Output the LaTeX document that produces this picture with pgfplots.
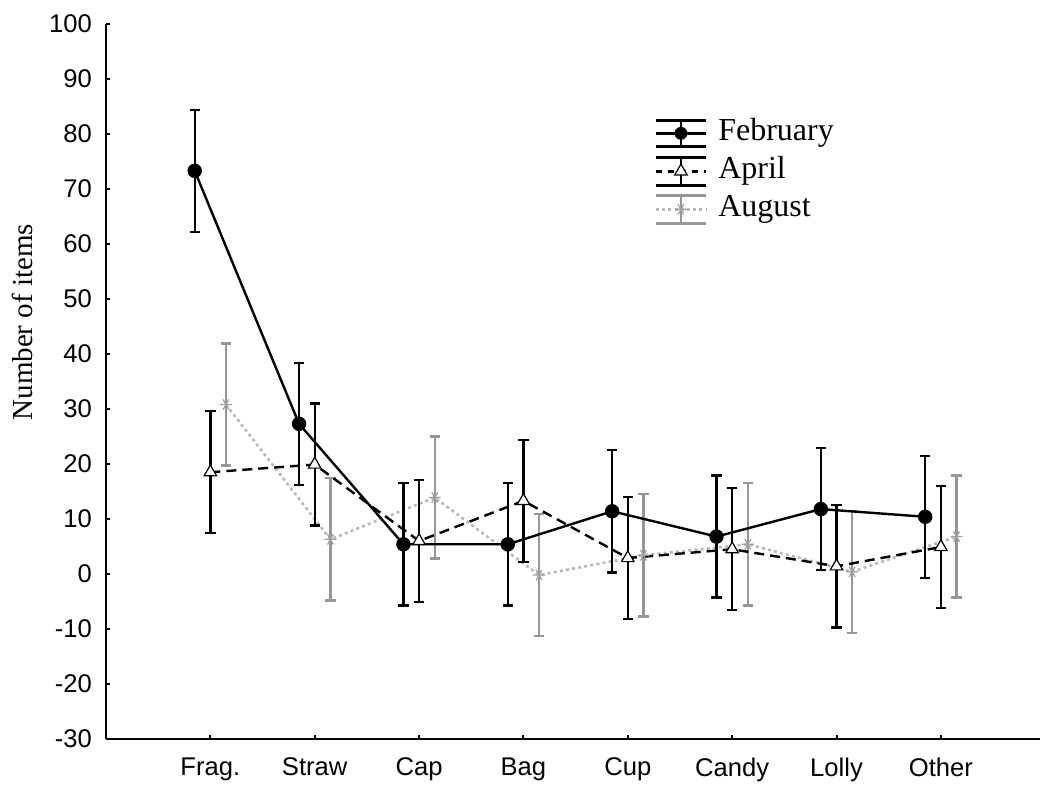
\documentclass[border=0pt]{standalone}
\usepackage{pgfplots}
\pgfplotsset{compat=1.18}
\usepackage{pgfplotstable}
\usepackage{fontspec}
\setmainfont{Liberation Serif}
\newfontfamily\arialfont{Liberation Sans}
\definecolor{augline}{RGB}{185,185,185}
\definecolor{augbar}{RGB}{150,150,150}
\definecolor{augmark}{RGB}{160,160,160}

\pgfplotstableread{
x     y     e
0.85  73.3  11.1
1.85  27.3  11.1
2.85  5.4   11.1
3.85  5.4   11.1
4.85  11.4  11.1
5.85  6.8   11.1
6.85  11.8  11.1
7.85  10.4  11.1
}\feb
\pgfplotstableread{
x     y     e
1.00  18.5  11.1
2.00  19.9  11.1
3.00  6.0   11.1
4.00  13.3  11.1
5.00  2.9   11.1
6.00  4.5   11.1
7.00  1.4   11.1
8.00  4.9   11.1
}\apr
\pgfplotstableread{
x     y     e
1.15  30.8  11.1
2.15  6.3   11.1
3.15  13.9  11.1
4.15  -0.2  11.1
5.15  3.4   11.1
6.15  5.4   11.1
7.15  0.4   11.1
8.15  6.8   11.1
}\aug

\begin{document}
\begin{tikzpicture}
\begin{axis}[
  name=ax,
  scale only axis,
  width=467pt, height=357.5pt,
  xmin=0, xmax=8.95,
  ymin=-30, ymax=100,
  axis x line*=bottom, axis y line*=left,
  axis line style={line width=1.2pt, black},
  xtick={1,2,3,4,5,6,7,8},
  xticklabels={Frag.,Straw,Cap,Bag,Cup,Candy,Lolly,Other},
  ytick={-30,-20,...,100},
  tick align=inside,
  major tick length=2.2pt,
  tick style={line width=1pt, black},
  /pgf/number format/assume math mode=true,
  ticklabel style={font=\arialfont\fontsize{12.8}{14}\selectfont},
  yticklabel style={xshift=-3.5pt},
  xticklabel style={yshift=-6pt},
  ylabel={Number of items},
  ylabel style={font=\fontsize{14.5}{16}\selectfont, at={(axis description cs:-0.09,0.583)}, anchor=center},
  legend style={at={(axis description cs:0.587,0.87)}, anchor=north west, draw=none, fill=none,
    font=\fontsize{16}{18}\selectfont, inner sep=0pt,
    nodes={inner sep=1pt, text height=10.5pt, text depth=3.5pt}, row sep=3pt},
  legend cell align=left,
  clip=false,
]
\addplot[forget plot, augline, line width=1.3pt, dash pattern=on 1.5pt off 1.6pt,
  mark=asterisk, mark size=3pt, mark options={solid, augmark, line width=0.6pt, rotate=90},
  error bars/.cd, y dir=both, y explicit,
  error bar style={solid, augbar, line width=1.2pt},
  error mark options={rotate=90, solid, augbar, line width=1.2pt, mark size=2.6pt}]
  table[x=x, y=y, y error=e] {\aug};
\addplot[forget plot, black, line width=1.2pt, dash pattern=on 5pt off 3pt,
  mark=triangle*, mark size=3.6pt, mark options={solid, fill=white, draw=black, line width=0.6pt},
  error bars/.cd, y dir=both, y explicit,
  error bar style={solid, black, line width=1.2pt},
  error mark options={rotate=90, solid, black, line width=1.2pt, mark size=2.6pt}]
  table[x=x, y=y, y error=e] {\apr};
\addplot[forget plot, black, line width=1.2pt, solid,
  mark=*, mark size=3pt, mark options={solid, fill=black},
  error bars/.cd, y dir=both, y explicit,
  error bar style={solid, black, line width=1.2pt},
  error mark options={rotate=90, solid, black, line width=1.2pt, mark size=2.6pt}]
  table[x=x, y=y, y error=e] {\feb};

\addlegendimage{legend image code/.code={
  \draw[black, line width=1.2pt] (0pt,-6.5pt) -- (25pt,-6.5pt);
  \draw[black, line width=1.2pt] (0pt,6.5pt) -- (25pt,6.5pt);
  \draw[black, line width=1.2pt] (12.5pt,-6.5pt) -- (12.5pt,6.5pt);
  \draw[black, line width=1.2pt] (0pt,0pt) -- (25pt,0pt);
  \draw[black, mark=*, mark size=3pt] plot coordinates {(12.5pt,0pt)};
}}
\addlegendentry{\hspace{4.5pt}February}
\addlegendimage{legend image code/.code={
  \draw[black, line width=1.2pt] (0pt,-7pt) -- (25pt,-7pt);
  \draw[black, line width=1.2pt] (0pt,7pt) -- (25pt,7pt);
  \draw[black, line width=1.2pt] (12.5pt,-7pt) -- (12.5pt,7pt);
  \draw[black, line width=1.2pt, dash pattern=on 3pt off 3pt] (0pt,0pt) -- (25pt,0pt);
  \draw[black, mark=triangle*, mark size=3.6pt, mark options={fill=white, line width=0.6pt}] plot coordinates {(12.5pt,0pt)};
}}
\addlegendentry{\hspace{4.5pt}April}
\addlegendimage{legend image code/.code={
  \draw[augbar, line width=1.2pt] (0pt,-7pt) -- (25pt,-7pt);
  \draw[augbar, line width=1.2pt] (0pt,7pt) -- (25pt,7pt);
  \draw[augbar, line width=1.2pt] (12.5pt,-7pt) -- (12.5pt,7pt);
  \draw[augline, line width=1.3pt, dash pattern=on 1.5pt off 1.6pt] (0pt,0pt) -- (25pt,0pt);
  \draw[augmark, mark=asterisk, mark size=3pt, mark options={line width=0.6pt, rotate=90}] plot coordinates {(12.5pt,0pt)};
}}
\addlegendentry{\hspace{4.5pt}August}
\end{axis}
\pgfresetboundingbox
\path ([xshift=-53pt,yshift=-23pt]ax.south west) rectangle ([yshift=12pt]ax.north east);
\end{tikzpicture}
\end{document}
